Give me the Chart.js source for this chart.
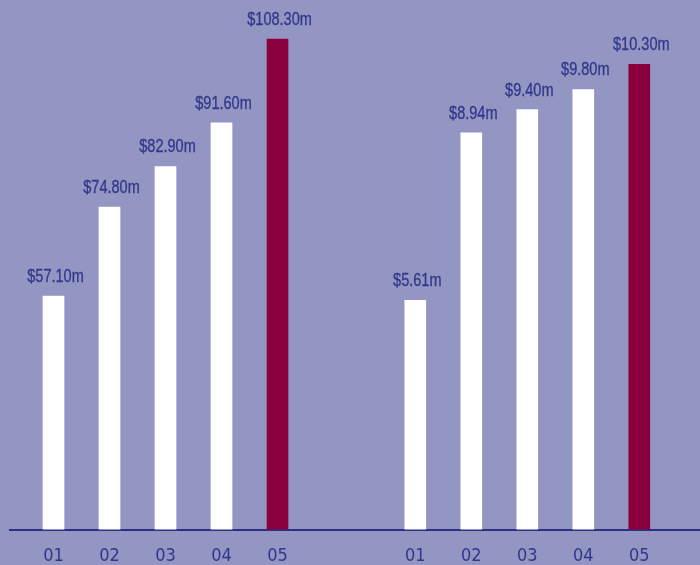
<!DOCTYPE html>
<html>
<head>
<meta charset="utf-8">
<script src="https://cdn.jsdelivr.net/npm/chart.js@4"></script>
<style>
  html, body { margin: 0; padding: 0; background: #9396c2; }
  #wrap { width: 700px; height: 565px; position: relative; }
</style>
</head>
<body>
<div id="wrap"><canvas id="chart"></canvas></div>
<script>
// data, $m
const years = ['01', '02', '03', '04', '05'];
const leftValues = [57.10, 74.80, 82.90, 91.60, 108.30];
const rightValues = [5.61, 8.94, 9.40, 9.80, 10.30];

const textColor = '#30378a';
const barWhite = '#ffffff';
const barHighlight = '#8a003e';
const fontFamily = '"Liberation Sans", Arial, sans-serif';

// second group sits a bit more than two slots to the right
const groupGap = 6.46;
const leftX = years.map((y, i) => i);
const rightX = years.map((y, i) => i + groupGap);
const tickPositions = leftX.concat(rightX);

const barColors = years.map((y, i) => i === years.length - 1 ? barHighlight : barWhite);

// value labels above each bar (squeezed to look like a narrow face)
const valueLabels = {
  id: 'valueLabels',
  afterDatasetsDraw(chart) {
    const ctx = chart.ctx;
    chart.data.datasets.forEach((ds, di) => {
      chart.getDatasetMeta(di).data.forEach((bar, i) => {
        const v = ds.data[i].y;
        ctx.save();
        ctx.translate(bar.x + 2, bar.y - 14);
        ctx.scale(0.83, 1);
        ctx.font = '17.5px ' + fontFamily;
        ctx.fillStyle = textColor;
        ctx.strokeStyle = textColor;
        ctx.lineWidth = 0.3;
        ctx.textAlign = 'center';
        ctx.textBaseline = 'alphabetic';
        ctx.fillText('$' + v.toFixed(2) + 'm', 0, 0);
        ctx.strokeText('$' + v.toFixed(2) + 'm', 0, 0);
        ctx.restore();
      });
    });
  }
};

new Chart(document.getElementById('chart'), {
  type: 'bar',
  data: {
    datasets: [
      {
        data: leftValues.map((v, i) => ({ x: leftX[i], y: v })),
        backgroundColor: barColors,
        yAxisID: 'y'
      },
      {
        data: rightValues.map((v, i) => ({ x: rightX[i], y: v })),
        backgroundColor: barColors,
        yAxisID: 'y2'
      }
    ]
  },
  options: {
    responsive: true,
    maintainAspectRatio: false,
    animation: false,
    grouped: false,
    barThickness: 21,
    layout: { padding: { left: 10, right: 0, top: 0, bottom: 0 } },
    plugins: { legend: { display: false }, tooltip: { enabled: false } },
    scales: {
      x: {
        type: 'linear',
        offset: false,
        min: -0.777,
        max: 11.544,
        grid: { display: false, drawTicks: false, offset: false },
        border: { display: true, color: '#2b3085', width: 2 },
        afterBuildTicks: (axis) => { axis.ticks = tickPositions.map(v => ({ value: v })); },
        afterFit: (axis) => { axis.height = 35.5; },
        ticks: {
          autoSkip: false,
          maxRotation: 0,
          padding: 16,
          color: textColor,
          font: { family: '"DejaVu Sans Condensed", sans-serif', size: 18 },
          callback: (value, index) => years[index % years.length]
        }
      },
      y: { display: false, min: 10.58, max: 116.07 },
      y2: { display: false, min: 1.055, max: 11.578 }
    }
  },
  plugins: [valueLabels]
});
</script>
</body>
</html>
